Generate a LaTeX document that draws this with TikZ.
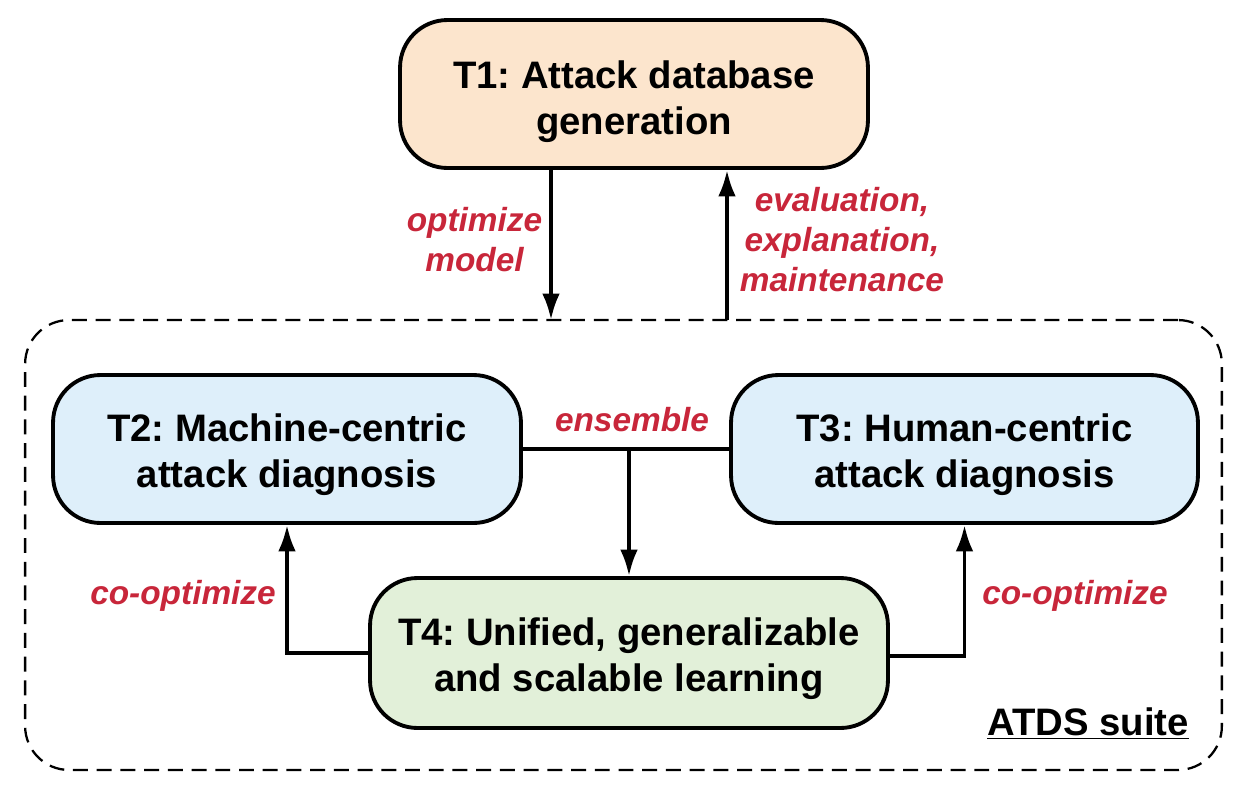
\documentclass[tikz,border=0pt]{standalone}
\usepackage{fontspec}
\setmainfont{Liberation Sans}
\usetikzlibrary{arrows.meta}
\definecolor{torange}{RGB}{252,229,205}
\definecolor{tblue}{RGB}{222,239,250}
\definecolor{tgreen}{RGB}{226,240,217}
\definecolor{lblred}{RGB}{200,38,58}
\newcommand\boxfont{\fontsize{21.8pt}{26.2pt}\selectfont\bfseries}
\newcommand\lblfont{\fontsize{19pt}{22.8pt}\selectfont\bfseries\itshape}
% two centred lines, set a little below the middle of the box
\newcommand\tlines[2][3.6pt]{\raisebox{0pt}[\dimexpr\height+#1][\dimexpr\depth-#1]{\begin{tabular}{@{}c@{}}#2\end{tabular}}}
\frenchspacing
\begin{document}
\begin{tikzpicture}[x=0.02cm,y=-0.02cm,
  task/.style={draw,line width=2.2pt,rounded corners=27pt,font=\boxfont,inner sep=0pt,minimum height=2.96cm},
  lbl/.style={text=lblred,font=\lblfont,align=center},
  conn/.style={line width=2.2pt},
  arr/.style={conn,-{Latex[length=15pt,width=10pt]}}]
\useasboundingbox (0,0) rectangle (1242,792);
% suite frame
\node[draw,dashed,dash pattern=on 8.5pt off 5pt,line width=1.3pt,rounded corners=25pt,minimum width=23.94cm,minimum height=9cm] (suite) at (623.5,545) {};
\node[font=\boxfont] (atds) at (1088,724) {\underline{ATDS suite}};
% tasks
\node[task,fill=torange,minimum width=9.36cm] (T1) at (634,94) {\tlines[4.6pt]{T1: Attack database\\generation}};
\node[task,fill=tblue,minimum width=9.36cm] (T2) at (287,449) {\tlines{T2: Machine-centric\\attack diagnosis}};
\node[task,fill=tblue,minimum width=9.34cm] (T3) at (964.5,449) {\tlines{T3: Human-centric\\attack diagnosis}};
\node[task,fill=tgreen,minimum width=10.36cm,minimum height=3cm] (T4) at (629,653) {\tlines{T4: Unified, generalizable\\and scalable learning}};
% T1 <-> suite
\coordinate (dn) at (551,320);
\coordinate (up) at (727,320);
\draw[arr] (T1.south -| dn) -- (dn);
\draw[arr] (up) -- (T1.south -| up);
\node[lbl] (optm) at (474.5,240) {optimize\\model};
\node[lbl] (eval) at (842,240) {evaluation,\\explanation,\\maintenance};
% inside suite
\draw[conn] (T2.east) -- (T3.west);
\draw[arr] (T2.east -| T4.north) -- (T4.north);
\node[lbl] (ens) at (632,420) {ensemble};
\draw[arr] (T4.west) -| (T2.south);
\draw[arr] ([yshift=-3*0.02cm]T4.east) -| (T3.south);
\node[lbl] (coL) at (183,596) {co-optimize};
\node[lbl] (coR) at (1075,596) {co-optimize};
\end{tikzpicture}
\end{document}
